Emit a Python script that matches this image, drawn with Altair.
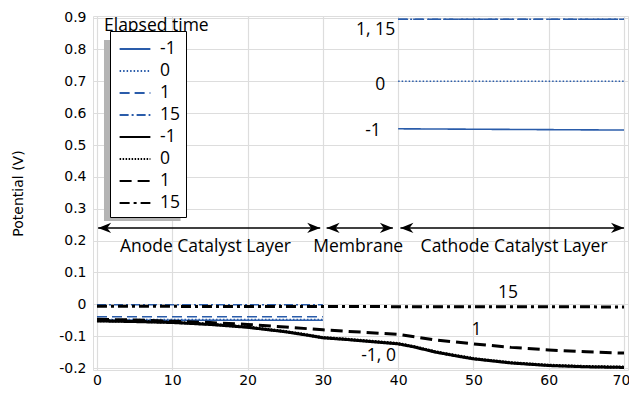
import altair as alt
import pandas as pd

# ---- data ----
series_keys = ["b-1", "b0", "b1", "b15", "k-1", "k0", "k1", "k15"]
series_colors = ["#2A5CAA"] * 4 + ["#000000"] * 4
series_dash = [[1, 0], [1.5, 2], [10, 5], [9, 3, 2, 3], [1, 0], [1.5, 1.5], [12, 6], [10, 4, 3, 4]]

# blue (anode 0-30 and cathode 40-70 segments)
blue_anode_x = [0, 30]
blue_cath_x = [40, 70]
blue_anode_y = {"b-1": [-0.050, -0.050], "b0": [-0.048, -0.048], "b1": [-0.039, -0.039], "b15": [-0.001, -0.001]}
blue_cath_y = {"b-1": [0.551, 0.547], "b0": [0.700, 0.700], "b1": [0.895, 0.895], "b15": [0.895, 0.895]}

# black (0-70)
k_x = [0, 5, 10, 15, 20, 25, 28, 30, 33, 36, 40, 42, 45, 48, 50, 55, 60, 65, 70]
k_m1 = [-0.052, -0.054, -0.057, -0.063, -0.072, -0.086, -0.097, -0.105, -0.110, -0.116, -0.124,
        -0.133, -0.150, -0.163, -0.171, -0.184, -0.192, -0.196, -0.198]
k_0 = [-0.051, -0.053, -0.056, -0.062, -0.071, -0.085, -0.096, -0.104, -0.109, -0.115, -0.123,
       -0.132, -0.149, -0.162, -0.170, -0.183, -0.191, -0.195, -0.197]
k_1x = [0, 5, 10, 15, 20, 25, 30, 35, 40, 45, 50, 55, 60, 65, 70]
k_1 = [-0.047, -0.049, -0.053, -0.057, -0.063, -0.071, -0.080, -0.087, -0.094, -0.112, -0.124,
       -0.135, -0.143, -0.149, -0.153]
k_15x = [0, 70]
k_15 = [-0.006, -0.008]

# region annotations
region_names = ["Anode Catalyst Layer", "Membrane", "Cathode Catalyst Layer"]
region_start = [0.15, 30.5, 40.3]
region_end = [29.65, 39.3, 70.0]
region_label_x = [14.4, 34.7, 55.4]
arrow_y = 0.24
region_label_y = 0.181

# line labels (right-aligned group and centred group)
lblR_text = ["1, 15", "0", "-1"]
lblR_x = [39.6, 38.3, 37.7]
lblR_y = [0.862, 0.69, 0.544]
lblC_text = ["15", "1", "-1, 0"]
lblC_x = [54.6, 50.4, 37.4]
lblC_y = [0.037, -0.080, -0.162]

# legend shadow (data coords)
shadow_x = [0.93, 11.1]
shadow_y = [0.262, 0.83]

# ---- build tables ----
rows = []
for key in ["b-1", "b0", "b1", "b15"]:
    for xv, yv in zip(blue_anode_x, blue_anode_y[key]):
        rows.append({"x": xv, "y": yv, "series": key, "seg": key + "a"})
    for xv, yv in zip(blue_cath_x, blue_cath_y[key]):
        rows.append({"x": xv, "y": yv, "series": key, "seg": key + "c"})
for key, xs_, ys_ in [("k-1", k_x, k_m1), ("k0", k_x, k_0), ("k1", k_1x, k_1), ("k15", k_15x, k_15)]:
    for xv, yv in zip(xs_, ys_):
        rows.append({"x": xv, "y": yv, "series": key, "seg": key})
lines_df = pd.DataFrame(rows)

regions_df = pd.DataFrame({"name": region_names, "x0": region_start, "x1": region_end,
                           "xl": region_label_x, "y": [arrow_y] * 3, "yl": [region_label_y] * 3})
lblR_df = pd.DataFrame({"t": lblR_text, "x": lblR_x, "y": lblR_y})
lblC_df = pd.DataFrame({"t": lblC_text, "x": lblC_x, "y": lblC_y})
shadow_df = pd.DataFrame({"x0": [shadow_x[0]], "x1": [shadow_x[1]], "y0": [shadow_y[0]], "y1": [shadow_y[1]]})

XDOM = [-0.53, 70.53]
YDOM = [-0.206, 0.905]
xs = alt.Scale(domain=XDOM, nice=False, zero=False)
ys = alt.Scale(domain=YDOM, nice=False, zero=False)

FONT = "Open Sans"
FS = 17.5

xaxis = alt.Axis(values=[0, 10, 20, 30, 40, 50, 60, 70], title=None, grid=True, ticks=False,
                 domain=False, labelPadding=3, labelFont="DejaVu Sans", labelFontSize=14,
                 labelColor="black", gridColor="#dddddd", gridWidth=1.2, labelOverlap=False,
                 labelFlush=False, orient="bottom",
                 labelOffset={"condition": {"test": "datum.value == 70", "value": -3}, "value": 0})
yaxis = alt.Axis(values=[-0.2, -0.1, 0, 0.1, 0.2, 0.3, 0.4, 0.5, 0.6, 0.7, 0.8, 0.9],
                 title="Potential (V)", grid=True, ticks=False, domain=False, labelPadding=7,
                 labelFont="DejaVu Sans", labelFontSize=14, labelColor="black",
                 labelOverlap=False, labelFlush=False, orient="left",
                 labelExpr="datum.value == 0 ? '0' : replace(format(datum.value, '.1f'), '\u2212', '-')",
                 titleFont="DejaVu Sans", titleFontSize=14, titleFontWeight="normal",
                 titleColor="black", titleX=-75, titleY=177, titleAngle=-90,
                 titleAlign="center", titleBaseline="middle", gridColor="#dddddd", gridWidth=1.2)


def X(f):
    return alt.X(f, scale=xs, axis=xaxis)


def Y(f):
    return alt.Y(f, scale=ys, axis=yaxis)


shadow = alt.Chart(shadow_df).mark_rect(color="#b4b4b4").encode(
    x=X("x0:Q"), x2="x1:Q", y=Y("y0:Q"), y2="y1:Q")

lines = alt.Chart(lines_df).mark_line(strokeCap="butt").encode(
    x=X("x:Q"),
    y=Y("y:Q"),
    detail="seg:N",
    color=alt.Color("series:O", scale=alt.Scale(domain=series_keys, range=series_colors),
                    legend=alt.Legend(title=None, orient="none", legendX=17, legendY=15,
                                      fillColor="white", strokeColor="black", padding=5,
                                      symbolType="M-1.3,0H1.3", symbolSize=560, rowPadding=0,
                                      symbolStrokeWidth=2.2, symbolOffset=7,
                                      labelFont=FONT, labelFontSize=FS, labelColor="black",
                                      labelOffset=12, labelLimit=200,
                                      labelExpr="slice(datum.label, 1)")),
    strokeDash=alt.StrokeDash("series:O", scale=alt.Scale(domain=series_keys, range=series_dash)),
    strokeWidth=alt.condition("indexof(datum.series, 'k') == 0", alt.value(3.0), alt.value(1.6)),
)

rules = alt.Chart(regions_df).mark_rule(color="black", strokeWidth=1.5).encode(
    x=X("x0:Q"), x2="x1:Q", y=Y("y:Q"))

left_head = alt.Chart(regions_df).mark_point(
    shape="M0,0 L2,-0.8 L1.4,0 L2,0.8 Z", size=169, filled=True, color="black", opacity=1
).encode(x=X("x0:Q"), y=Y("y:Q"))
right_head = alt.Chart(regions_df).mark_point(
    shape="M0,0 L-2,-0.8 L-1.4,0 L-2,0.8 Z", size=169, filled=True, color="black", opacity=1
).encode(x=X("x1:Q"), y=Y("y:Q"))

region_text = alt.Chart(regions_df).mark_text(font=FONT, fontSize=FS, color="black",
                                              baseline="middle", align="center").encode(
    x=X("xl:Q"), y=Y("yl:Q"), text="name:N")

labels_r = alt.Chart(lblR_df).mark_text(font=FONT, fontSize=FS, color="black",
                                        baseline="middle", align="right").encode(
    x=X("x:Q"), y=Y("y:Q"), text="t:N")
labels_c = alt.Chart(lblC_df).mark_text(font=FONT, fontSize=FS, color="black",
                                        baseline="middle", align="center").encode(
    x=X("x:Q"), y=Y("y:Q"), text="t:N")

title_df = pd.DataFrame({"t": ["Elapsed time"], "x": [0.93], "y": [0.874]})
legend_title = alt.Chart(title_df).mark_text(font=FONT, fontSize=FS, color="black",
                                             baseline="middle", align="left").encode(
    x=X("x:Q"), y=Y("y:Q"), text="t:N")

chart = alt.layer(shadow, lines, rules, left_head, right_head, region_text, labels_r, labels_c,
                  legend_title).properties(
    width=535, height=354,
    autosize=alt.AutoSizeParams(type="none"),
    padding={"left": 85, "top": 8, "right": 1, "bottom": 17},
).configure_view(stroke="black", strokeWidth=1.5).configure(background="white")

chart.save("out.html", embed_options={"renderer": "svg", "actions": False})
